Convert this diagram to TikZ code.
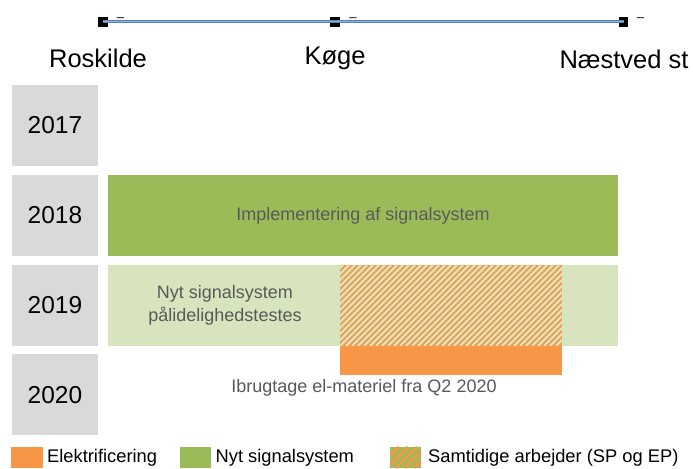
\documentclass[tikz,border=0pt]{standalone}
\usepackage{fontspec}
\setmainfont{Liberation Sans}
\begin{document}
\begin{tikzpicture}[x=1bp,y=-1bp,
  yearbox/.style={fill=yeargrey,draw=none,minimum width=86bp,minimum height=80.7bp,inner sep=0pt,font=\fontsize{24.5bp}{28bp}\selectfont},
  station/.style={font=\fontsize{25.5bp}{28bp}\selectfont,anchor=base,inner sep=0pt},
  stop/.style={fill=black,draw=none,minimum width=9.5bp,minimum height=9.5bp,inner sep=0pt},
  tick/.style={font=\fontsize{13bp}{14bp}\selectfont,inner sep=0pt},
  bartext/.style={text=bargrey,font=\fontsize{18bp}{23bp}\selectfont,inner sep=0pt,align=center},
  legtext/.style={font=\fontsize{18.3bp}{21bp}\selectfont,inner sep=0pt,anchor=west},
  legbox/.style={draw=none,minimum width=31bp,minimum height=21bp,inner sep=0pt}]
\definecolor{yeargrey}{HTML}{D9D9D9}
\definecolor{bargrey}{HTML}{595959}
\definecolor{orng}{HTML}{F79646}
\definecolor{grn}{HTML}{9BBB59}
\definecolor{lgrn}{HTML}{D7E4BD}
\definecolor{lineblue}{HTML}{4F81BD}
\definecolor{lineblue2}{HTML}{95B3D7}
\useasboundingbox (0,0) rectangle (693,469);
\fill[white] (0,0) rectangle (693,469);

% top line with stops
\node[stop] (s1) at (103,21.8) {};
\node[stop] (s2) at (335,21.8) {};
\node[stop] (s3) at (623.5,21.8) {};
\draw[lineblue,line width=2.6bp] (s1.center) -- (s2.center) -- (s3.center);
\draw[lineblue2,line width=0.9bp] (s1.center) -- (s2.center) -- (s3.center);
\node[tick] (t1) at (120.5,19.3) {–};
\node[tick] (t2) at (353,19.3) {–};
\node[tick] (t3) at (640.5,19.3) {–};

% station labels
\node[station] (rosk) at (98,67.7) {Roskilde};
\node[station] (koge) at (335,65) {Køge};
\node[station] (naes) at (624,68.3) {Næstved st};

% year boxes
\node[yearbox] (y2017) at (55,125.35) {2017};
\node[yearbox] (y2018) at (55,215.35) {2018};
\node[yearbox] (y2019) at (55,305.35) {2019};
\node[yearbox] (y2020) at (55,394.65) {2020};

% bars
\fill[grn] (108,175) rectangle (618,256);
\node[bartext] (impl) at (363,215.5) {Implementering af signalsystem};
\fill[lgrn] (108,265) rectangle (618,346);
\node[bartext] (test) at (225,305) {Nyt signalsystem\\pålidelighedstestes};

% hatched overlap
\fill[orng] (340,265) rectangle (562,346);
\begin{scope}
  \clip (340,265) rectangle (562,346);
  \foreach \k in {-84,-78,...,228} {
    \draw[lgrn,line width=2.3bp] (340+\k,346) -- (340+\k+81,265);
  }
\end{scope}
\fill[orng] (340,346) rectangle (562,374.7);
\node[bartext] (ibrug) at (364,388) {Ibrugtage el-materiel fra Q2 2020};

% legend
\node[legbox,fill=orng] (lo) at (27,457.5) {};
\node[legtext] (llo) at (47,458) {Elektrificering};
\node[legbox,fill=grn] (lg) at (195.5,457.5) {};
\node[legtext] (llg) at (215.5,458) {Nyt signalsystem};
\node[legbox,fill=grn] (lh) at (405.5,457.5) {};
\begin{scope}
  \clip (lh.south west) rectangle (lh.north east);
  \foreach \k in {-30,-21,...,42} {
    \draw[orng,line width=2.6bp] (390+\k,468) -- (390+\k+21,447);
  }
\end{scope}
\node[legtext] (llh) at (428,458) {Samtidige arbejder (SP og EP)};
\end{tikzpicture}
\end{document}
